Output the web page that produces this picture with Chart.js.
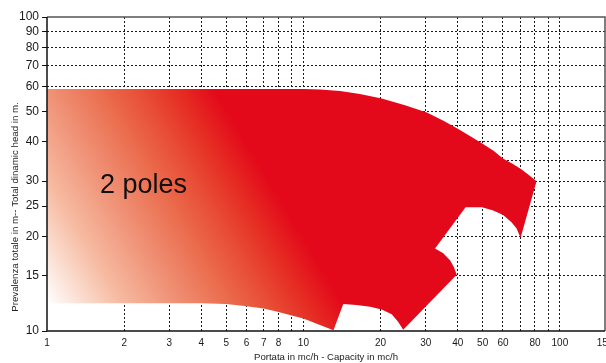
<!DOCTYPE html>
<html>
<head>
<meta charset="utf-8">
<script src="https://cdn.jsdelivr.net/npm/chart.js@4/dist/chart.umd.min.js"></script>
<style>
  html, body { margin: 0; padding: 0; background: #ffffff; }
  canvas { display: block; }
</style>
</head>
<body>
<canvas id="c" width="606" height="363"></canvas>
<script>
// ---------- DATA ----------
const X_GRID   = [1, 2, 3, 4, 5, 6, 7, 8, 9, 10, 20, 30, 40, 50, 60, 70, 80, 90, 100, 150];
const X_LABELS = [1, 2, 3, 4, 5, 6, 7, 8, 10, 20, 30, 40, 50, 60, 80, 100, 150];
const Y_GRID   = [10, 15, 20, 25, 30, 35, 40, 45, 50, 60, 70, 80, 90, 100];
const Y_LABELS = [10, 15, 20, 25, 30, 40, 50, 60, 70, 80, 90, 100];

// Outline of the "2 poles" operating field (capacity m3/h, head m)
const FIELD_Q = [1, 10, 11.6, 13.9, 16.6, 20.2, 24.9, 30.3, 35, 40, 44.6, 50, 55.3, 60, 65.6, 70.5, 75.7, 81.1,
                 70.3, 67.8, 64.8, 60.1, 55, 49.7, 42.9,
                 32.6, 35.1, 37.3, 38.6, 39.6,
                 24.5, 23.4, 22.1, 20.2, 18.2, 16.1, 14.3,
                 13.1, 11.6, 10, 9, 8, 7, 6, 5, 4, 1];
const FIELD_H = [59, 59, 58.8, 58.1, 56.9, 55, 52.4, 49.6, 46.8, 44.1, 41.8, 39.5, 37.4, 35.4, 34, 32.8, 31.4, 30,
                 19.8, 21.2, 22.2, 23.4, 24.2, 24.8, 24.8,
                 18.3, 17.7, 16.8, 16, 15.1,
                 10.1, 10.7, 11.3, 11.7, 11.95, 12.1, 12.2,
                 10.05, 10.45, 10.95, 11.2, 11.5, 11.8, 12.0, 12.2, 12.25, 12.25];

const FIELD_LABEL = '2 poles';
const X_TITLE = 'Portata in mc/h - Capacity in mc/h';
const Y_TITLE = 'Prevalenza totale in m-- Total dinamic head in m.';

// ---------- STYLE ----------
const RED = '#e3081a';
const GRAD_FROM = { x: 1, y: 12.25 };  // white corner of the gradient (data space)
const GRAD_TO   = { x: 7.1, y: 32 };   // where it becomes full red
const GRAD_STOPS = [
  [0.00, '#ffffff'],
  [0.25, '#f6bba2'],
  [0.42, '#f0957a'],
  [0.60, '#eb6f50'],
  [0.75, '#e84c35'],
  [0.88, '#e52a22'],
  [1.00, RED]
];
const LABEL_POS = { x: 1.61, y: 27.6 };

const fieldData = FIELD_Q.map((q, i) => ({ x: q, y: FIELD_H[i] }));

function gradientFill(context) {
  const chart = context.chart;
  const area = chart.chartArea;
  if (!area) return RED;
  const xs = chart.scales.x, ys = chart.scales.y;
  const x0 = xs.getPixelForValue(GRAD_FROM.x), y0 = ys.getPixelForValue(GRAD_FROM.y);
  const x1 = xs.getPixelForValue(GRAD_TO.x),   y1 = ys.getPixelForValue(GRAD_TO.y);
  const g = chart.ctx.createLinearGradient(x0, y0, x1, y1);
  GRAD_STOPS.forEach(s => g.addColorStop(s[0], s[1]));
  return g;
}

const decorPlugin = {
  id: 'decor',
  afterDatasetsDraw(chart) {
    const { ctx, chartArea: a, scales } = chart;
    ctx.save();
    // label inside the field
    ctx.fillStyle = '#111111';
    ctx.font = '27px "Liberation Sans", Arial, sans-serif';
    ctx.textAlign = 'left';
    ctx.textBaseline = 'alphabetic';
    ctx.fillText(FIELD_LABEL, scales.x.getPixelForValue(LABEL_POS.x), scales.y.getPixelForValue(LABEL_POS.y));
    // frame
    ctx.lineWidth = 1.5;
    ctx.strokeStyle = '#555555';
    ctx.beginPath();
    ctx.moveTo(a.left, a.top); ctx.lineTo(a.right, a.top); ctx.lineTo(a.right, a.bottom);
    ctx.stroke();
    ctx.strokeStyle = '#111111';
    ctx.beginPath();
    ctx.moveTo(a.left, a.top); ctx.lineTo(a.left, a.bottom); ctx.lineTo(a.right, a.bottom);
    ctx.stroke();
    // y axis title
    ctx.fillStyle = '#222222';
    ctx.font = '9.7px "Liberation Sans", Arial, sans-serif';
    ctx.textAlign = 'center';
    ctx.textBaseline = 'middle';
    ctx.translate(15, 207);
    ctx.rotate(-Math.PI / 2);
    ctx.fillText(Y_TITLE, 0, 0);
    ctx.restore();
  }
};

new Chart(document.getElementById('c'), {
  type: 'scatter',
  data: {
    datasets: [{
      data: fieldData,
      showLine: true,
      tension: 0,
      pointRadius: 0,
      pointHoverRadius: 0,
      borderWidth: 0,
      borderColor: 'rgba(0,0,0,0)',
      backgroundColor: gradientFill,
      fill: 'shape'
    }]
  },
  options: {
    responsive: false,
    devicePixelRatio: 1,
    animation: false,
    events: [],
    layout: { padding: { top: 17, right: 1, left: 0, bottom: 0 } },
    plugins: { legend: { display: false }, tooltip: { enabled: false } },
    scales: {
      x: {
        type: 'logarithmic',
        min: 1, max: 150,
        afterBuildTicks: s => { s.ticks = X_GRID.map(v => ({ value: v })); },
        afterFit: s => { s.height = 32; s.paddingLeft = 0; s.paddingRight = 0; },
        grid: {
          color: ctx => (ctx.tick && (ctx.tick.value === 1 || ctx.tick.value === 150)) ? 'rgba(0,0,0,0)' : '#1a1a1a',
          lineWidth: 1,
          drawTicks: false
        },
        border: { display: false, dash: [2, 2] },
        ticks: {
          autoSkip: false,
          maxRotation: 0,
          padding: 6,
          color: '#1a1a1a',
          font: { family: '"Liberation Sans", Arial, sans-serif', size: 10 },
          callback: v => X_LABELS.includes(v) ? String(v) : ''
        },
        title: {
          display: true,
          text: X_TITLE,
          color: '#222222',
          padding: { top: 0, bottom: 0 },
          font: { family: '"Liberation Sans", Arial, sans-serif', size: 9.6 }
        }
      },
      y: {
        type: 'logarithmic',
        min: 10, max: 100,
        afterBuildTicks: s => { s.ticks = Y_GRID.map(v => ({ value: v })); },
        afterFit: s => { s.width = 47; s.paddingTop = 0; s.paddingBottom = 0; },
        grid: {
          color: ctx => (ctx.tick && (ctx.tick.value === 10 || ctx.tick.value === 100)) ? 'rgba(0,0,0,0)' : '#1a1a1a',
          lineWidth: 1,
          drawTicks: true,
          tickLength: 5,
          tickWidth: 1,
          tickColor: ctx => (ctx.tick && Y_LABELS.includes(ctx.tick.value)) ? '#111111' : 'rgba(0,0,0,0)'
        },
        border: { display: false, dash: [2, 2] },
        ticks: {
          autoSkip: false,
          padding: 3,
          color: '#1a1a1a',
          font: { family: '"Liberation Sans", Arial, sans-serif', size: 12 },
          callback: v => Y_LABELS.includes(v) ? String(v) : ''
        }
      }
    }
  },
  plugins: [decorPlugin]
});
</script>
</body>
</html>
